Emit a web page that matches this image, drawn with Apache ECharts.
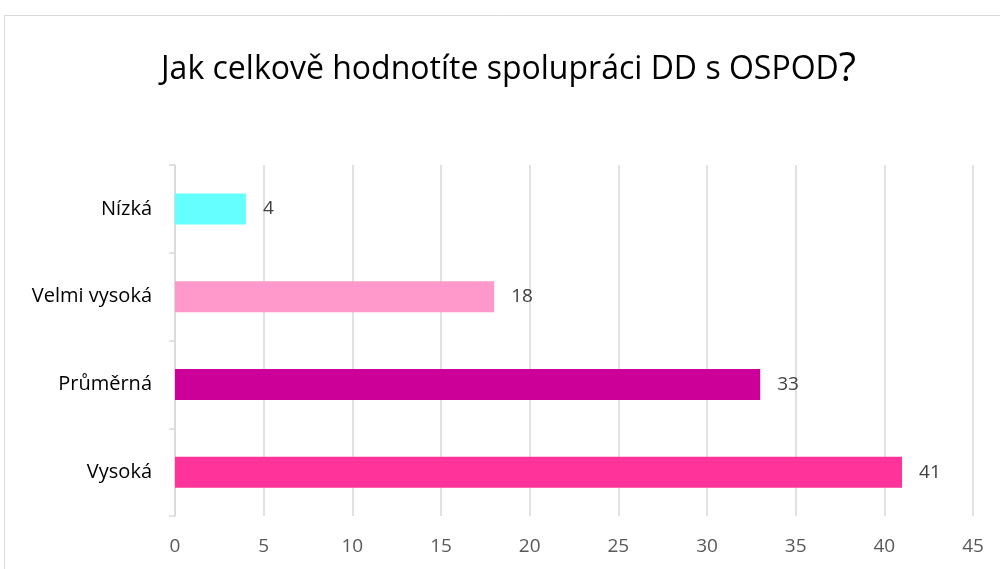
<!DOCTYPE html>
<html>
<head>
<meta charset="utf-8">
<script src="https://cdn.jsdelivr.net/npm/echarts@6/dist/echarts.min.js"></script>
<style>
  html, body { margin: 0; padding: 0; background: #fff; }
  #chart { width: 1000px; height: 569px; }
</style>
</head>
<body>
<div id="chart"></div>
<script>
// data (top to bottom)
const categories = ['Nízká', 'Velmi vysoká', 'Průměrná', 'Vysoká'];
const counts = [4, 18, 33, 41];
const barColors = ['#66FFFF', '#FF99CC', '#CC0099', '#FF3399'];
const xTicks = { min: 0, max: 45, interval: 5 };

const fontFamily = '"Open Sans", "Noto Sans", sans-serif';

let chart = echarts.init(document.getElementById('chart'), null, { renderer: 'canvas' });

const option = {
  animation: false,
  backgroundColor: '#fff',
  textStyle: { fontFamily: fontFamily },
  graphic: [
    {
      type: 'rect',
      shape: { x: 4.5, y: 15.5, width: 1000, height: 600 },
      style: { fill: 'none', stroke: '#d9d9d9', lineWidth: 1 },
      silent: true
    }
  ],
  title: {
    text: '{t|Jak celkově hodnotíte spolupráci DD s OSPOD}{q|?}',
    left: 156,
    top: 45,
    textStyle: {
      rich: {
        t: { fontSize: 32, color: '#000', fontFamily: fontFamily, fontWeight: 'normal' },
        q: { fontSize: 40, color: '#000', fontFamily: fontFamily, fontWeight: 'normal' }
      }
    }
  },
  grid: {
    left: 175,
    right: 27,
    top: 165,
    bottom: 53,
    containLabel: false
  },
  xAxis: {
    type: 'value',
    min: xTicks.min,
    max: xTicks.max,
    interval: xTicks.interval,
    axisLine: { show: false },
    axisTick: { show: false },
    axisLabel: { color: '#595959', fontSize: 19, margin: 21 },
    splitLine: { show: true, lineStyle: { color: '#d9d9d9', width: 1.5 } }
  },
  yAxis: {
    type: 'category',
    inverse: true,
    data: categories,
    axisLine: { show: true, lineStyle: { color: '#d9d9d9', width: 1.5 } },
    axisTick: { show: true, length: 6, lineStyle: { color: '#d9d9d9', width: 1.5 } },
    axisLabel: { color: '#000', fontSize: 20, margin: 23 }
  },
  series: [
    {
      type: 'bar',
      barWidth: 31,
      data: counts.map((v, i) => ({ value: v, itemStyle: { color: barColors[i] } })),
      label: {
        show: true,
        position: 'right',
        distance: 17,
        color: '#404040',
        fontSize: 19
      }
    }
  ]
};

chart.setOption(option);
</script>
</body>
</html>
